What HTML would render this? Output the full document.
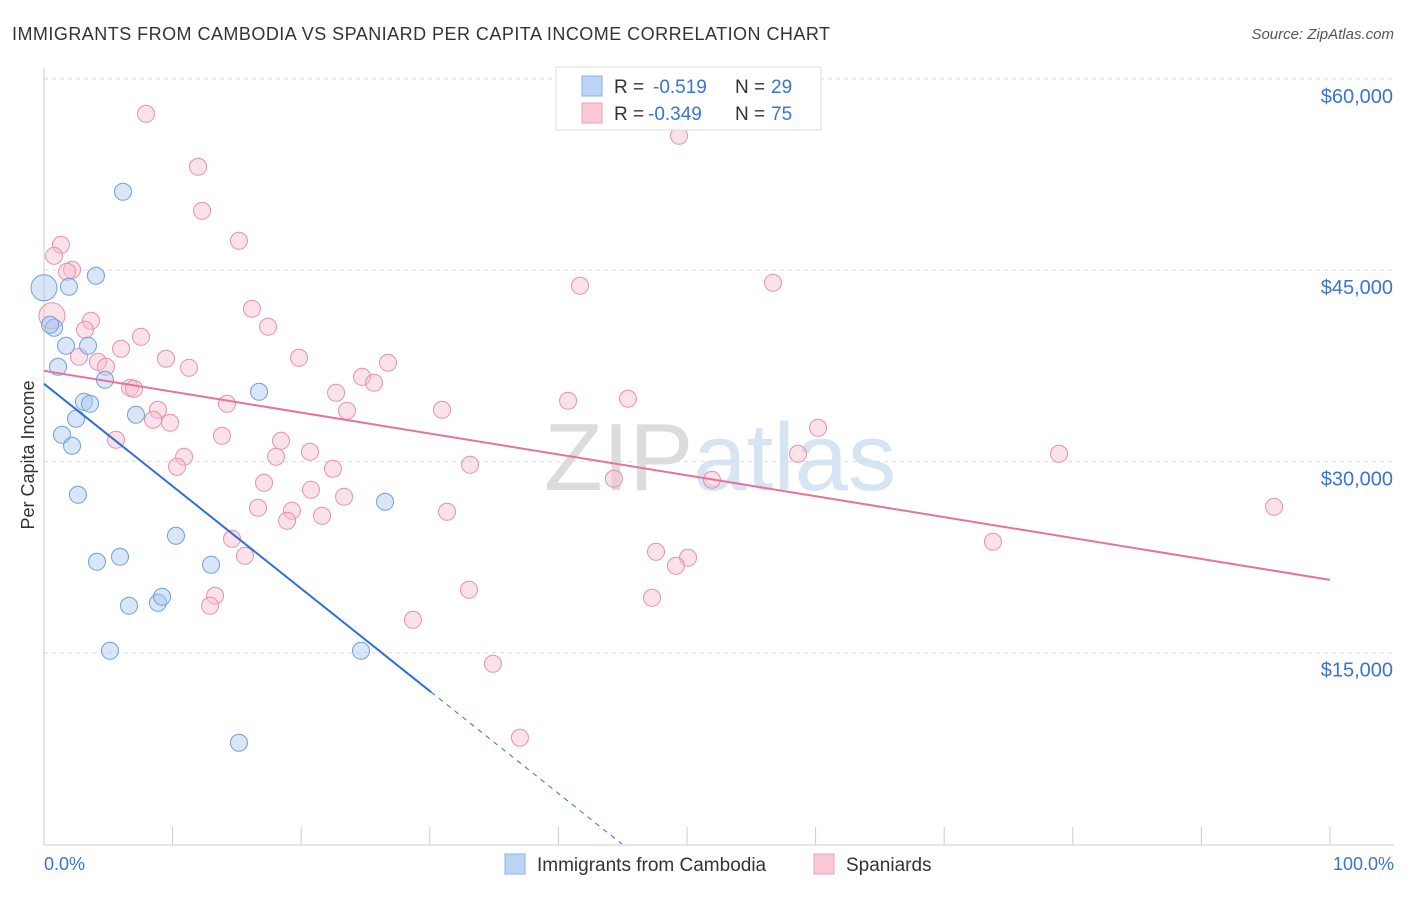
<!DOCTYPE html>
<html><head><meta charset="utf-8">
<style>
body{margin:0;background:#fff;font-family:"Liberation Sans",sans-serif;}
svg text{font-family:"Liberation Sans",sans-serif;}
</style></head>
<body>
<svg id="chart" width="1406" height="892" xmlns="http://www.w3.org/2000/svg">
<text x="12" y="40" font-size="18" fill="#333" textLength="818">IMMIGRANTS FROM CAMBODIA VS SPANIARD PER CAPITA INCOME CORRELATION CHART</text>
<text x="1394" y="39" font-size="15" fill="#555" text-anchor="end" font-style="italic">Source: ZipAtlas.com</text>
<text x="720" y="490" font-size="96" fill="#e4e4e4" text-anchor="middle" font-family="Liberation Serif"><tspan fill="#dcdcdc">ZIP</tspan><tspan fill="#d6e4f3" font-family="Liberation Sans">atlas</tspan></text>
<g id="grid"></g>
<g id="axes"></g>
<g id="marks"></g>
<text transform="translate(34,455) rotate(-90)" font-size="18" fill="#333" text-anchor="middle">Per Capita Income</text>
<text x="44" y="870" font-size="18" fill="#3b74d0">0.0%</text>
<text x="1394" y="870" font-size="18" fill="#3b74d0" text-anchor="end">100.0%</text>
<g>
<rect x="556" y="67" width="265" height="63" fill="#fff" stroke="#ddd"/>
<rect x="582" y="76" width="20" height="20" fill="#bcd4f5" stroke="#8ab0e6"/>
<rect x="582" y="103" width="20" height="20" fill="#f9c9d7" stroke="#eaa0b8"/>
<text x="614" y="93" font-size="19" fill="#333">R =</text>
<text x="653" y="93" font-size="19" fill="#3b74d0">-0.519</text>
<text x="735" y="93" font-size="19" fill="#333">N =</text>
<text x="771" y="93" font-size="19" fill="#3b74d0">29</text>
<text x="614" y="120" font-size="19" fill="#333">R =</text>
<text x="648" y="120" font-size="19" fill="#3b74d0">-0.349</text>
<text x="735" y="120" font-size="19" fill="#333">N =</text>
<text x="771" y="120" font-size="19" fill="#3b74d0">75</text>
</g>
<g>
<rect x="505" y="854" width="20" height="20" fill="#bcd4f5" stroke="#8ab0e6"/>
<text x="537" y="871" font-size="19" fill="#333">Immigrants from Cambodia</text>
<rect x="814" y="854" width="20" height="20" fill="#f9c9d7" stroke="#eaa0b8"/>
<text x="846" y="871" font-size="19" fill="#333">Spaniards</text>
</g>
</svg>
<script>
const yTicks=[15000,30000,45000,60000];
const yTickLabels=["$15,000","$30,000","$45,000","$60,000"];
const xTicks=[0,10,20,30,40,50,60,70,80,90,100];
const blueX=[0,0.78,1.94,4.04,6.14,1.71,1.09,3.42,4.74,3.11,3.58,2.49,7.15,1.40,2.18,2.64,16.72,26.52,10.26,4.12,5.91,12.99,6.61,8.86,9.18,5.13,24.65,15.16,0.47];
const blueY=[43612,40476,43690,44553,51140,39064,37418,39064,36398,34673,34517,33341,33655,32086,31223,27381,35458,26833,24167,22128,22520,21892,18678,18913,19384,15149,15149,7936,40711];
const pinkX=[7.93,49.38,11.98,12.29,15.16,1.32,0.78,2.18,1.79,41.68,56.69,16.17,3.65,17.42,3.19,7.54,0.62,5.99,2.72,9.49,19.83,4.20,4.82,11.28,26.75,24.73,25.66,6.69,7.00,22.71,14.23,8.86,8.48,9.80,23.56,30.95,40.75,45.41,60.19,5.60,13.84,18.43,10.89,18.04,20.68,58.63,78.93,10.34,33.13,22.47,44.32,51.94,17.11,20.76,23.33,16.64,19.28,21.62,18.90,31.34,95.65,73.79,14.62,15.63,47.59,50.08,49.14,13.30,12.91,33.05,47.28,28.69,34.91,37.01];
const pinkY=[57256,55531,53100,49650,47298,46984,46121,45024,44867,43769,44004,41966,41025,40554,40319,39770,41417,38829,38202,38045,38124,37810,37418,37339,37731,36634,36163,35771,35693,35379,34517,34046,33262,33027,33968,34046,34752,34909,32635,31694,32008,31615,30361,30361,30753,30596,30596,29577,29734,29420,28636,28557,28322,27773,27225,26362,26127,25735,25343,26048,26440,23696,23931,22598,22912,22442,21814,19462,18678,19933,19305,17580,14130,8328];
const blueFit=[36085,-803];
const pinkFit=[37104,-163.9];
const NS="http://www.w3.org/2000/svg";
const sx=v=>44+v*12.86;
const sy=v=>844-v*191.3/15000;
function mk(tag,attrs,parent){const e=document.createElementNS(NS,tag);for(const k in attrs)e.setAttribute(k,attrs[k]);parent.appendChild(e);return e;}
const grid=document.getElementById('grid'),axes=document.getElementById('axes'),marks=document.getElementById('marks');
yTicks.forEach((t,i)=>{
 const l=mk('line',{x1:44,x2:1394,y1:sy(t),y2:sy(t),stroke:'#ddd','stroke-dasharray':'4,4'},grid);
 
 
 const tx=mk('text',{x:1393,y:sy(t)+24,'font-size':20,fill:'#3b74d0','text-anchor':'end'},axes);
 tx.textContent=yTickLabels[i];
 
 
});
const topL=mk('line',{x1:44,x2:1394,y1:79,y2:79,stroke:'#ddd','stroke-dasharray':'4,4'},grid);


const ya=mk('line',{x1:44,x2:44,y1:68,y2:845,stroke:'#ccc'},axes);


const xa=mk('line',{x1:44,x2:1394,y1:845,y2:845,stroke:'#ccc'},axes);


xTicks.forEach(t=>{
 const l=mk('line',{x1:sx(t),x2:sx(t),y1:827,y2:845,stroke:'#ccc'},axes);
 
 
});
function dots(X,Y,fill,stroke,name){
 X.forEach((x,i)=>{
  const r=(i===0&&name==='point-cambodia')||(i===16&&name==='point-spaniard')?13:8.5;
  const c=mk('circle',{cx:sx(x),cy:sy(Y[i]),r:r,fill:fill,'fill-opacity':0.45,stroke:stroke,'stroke-width':1},marks);
  
  
 });
}
dots(pinkX,pinkY,'#f7bccd','#e890ab','point-spaniard');
dots(blueX,blueY,'#a9c8f0','#6f9fdc','point-cambodia');
const pl=mk('line',{x1:sx(0),y1:sy(pinkFit[0]),x2:sx(100),y2:sy(pinkFit[0]+pinkFit[1]*100),stroke:'#e8729a','stroke-width':2},marks);


const bEnd=30.1,bZero=-blueFit[0]/blueFit[1];
const bl=mk('line',{x1:sx(0),y1:sy(blueFit[0]),x2:sx(bEnd),y2:sy(blueFit[0]+blueFit[1]*bEnd),stroke:'#2f6fd6','stroke-width':2},marks);


const bd=mk('line',{x1:sx(bEnd),y1:sy(blueFit[0]+blueFit[1]*bEnd),x2:sx(bZero),y2:sy(0),stroke:'#2f6fd6','stroke-width':1,'stroke-dasharray':'5,5'},marks);


</script>
</body></html>
